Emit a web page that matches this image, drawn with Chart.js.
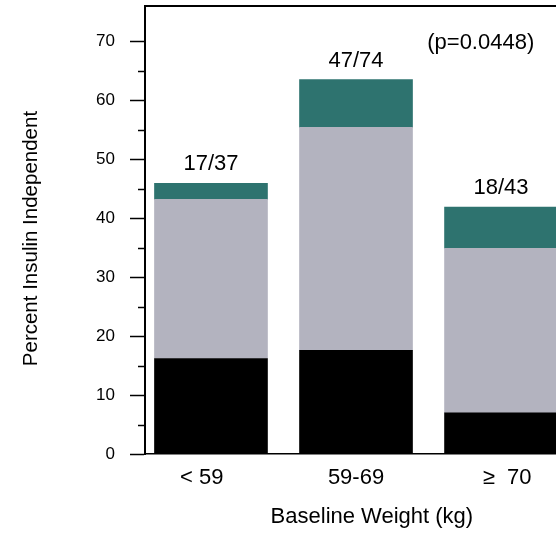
<!DOCTYPE html>
<html>
<head>
<meta charset="utf-8">
<script src="https://cdn.jsdelivr.net/npm/chart.js@4.4.0/dist/chart.umd.min.js"></script>
<style>
html, body { margin: 0; padding: 0; background: #fff; }
#wrap { width: 556px; height: 535px; }
</style>
</head>
<body>
<div id="wrap"><canvas id="chart"></canvas></div>
<script>
// values (percent of patients in each weight group)
const categories = ['< 59   ', '59-69', '  \u2265  70'];
const countLabels = ['17/37', '47/74', '18/43'];
const blackPct = [16.2, 17.6, 7.0];
const grayPct = [27.0, 37.8, 27.9];
const greenPct = [2.7, 8.1, 7.0];
const pValue = '(p=0.0448)';

const FONT = '"Liberation Sans", Arial, sans-serif';
Chart.defaults.font.family = FONT;
Chart.defaults.color = '#000';

function series(values) {
    return values.map((v, i) => ({ x: i, y: v }));
}

const extras = {
    id: 'extras',
    afterDatasetsDraw(chart) {
        const ctx = chart.ctx;
        const last = chart.getDatasetMeta(chart.data.datasets.length - 1);
        ctx.save();
        ctx.fillStyle = '#000';
        ctx.font = '22px ' + FONT;
        ctx.textAlign = 'center';
        ctx.textBaseline = 'alphabetic';
        last.data.forEach((bar, i) => {
            ctx.fillText(countLabels[i], bar.x, bar.y - 13);
        });
        ctx.fillText(pValue, chart.scales.x.getPixelForValue(1.86), chart.scales.y.getPixelForValue(70) + 8);
        ctx.restore();
    },
    afterDraw(chart) {
        const ctx = chart.ctx;
        const area = chart.chartArea;
        const y = chart.scales.y;
        ctx.save();
        ctx.strokeStyle = '#000';
        ctx.lineWidth = 2;
        ctx.beginPath();
        ctx.moveTo(area.left - 1, area.top);
        ctx.lineTo(area.right, area.top);
        ctx.stroke();
        // short minor ticks between the labelled ones
        ctx.lineWidth = 1.5;
        y.ticks.forEach(t => {
            if (t.value % 10 !== 0 && t.value < 70) {
                const py = Math.round(y.getPixelForValue(t.value)) + 0.5;
                ctx.beginPath();
                ctx.moveTo(area.left - 7, py);
                ctx.lineTo(area.left, py);
                ctx.stroke();
            }
        });
        ctx.restore();
    }
};

const chart = new Chart(document.getElementById('chart'), {
    type: 'bar',
    data: {
        datasets: [
            { label: 'black', data: series(blackPct), backgroundColor: '#000000' },
            { label: 'gray', data: series(grayPct), backgroundColor: '#b3b3bf' },
            { label: 'green', data: series(greenPct), backgroundColor: '#2e736f' }
        ]
    },
    options: {
        responsive: true,
        maintainAspectRatio: false,
        animation: false,
        barThickness: 113,
        layout: { padding: { top: 6, left: 0, right: 0, bottom: 0 } },
        plugins: {
            legend: { display: false },
            tooltip: { enabled: false }
        },
        scales: {
            x: {
                type: 'linear',
                stacked: true,
                offset: false,
                min: -0.455,
                max: 2.379,
                grid: { display: true, offset: false, drawOnChartArea: false, drawTicks: false },
                border: { display: true, color: '#000', width: 1.5 },
                afterBuildTicks: scale => {
                    scale.ticks = categories.map((c, i) => ({ value: i }));
                },
                ticks: {
                    autoSkip: false,
                    maxRotation: 0,
                    padding: 11,
                    font: { size: 22 },
                    callback: v => categories[v]
                },
                title: {
                    display: true,
                    text: '       Baseline Weight (kg)',
                    font: { size: 22 },
                    padding: { top: 0, bottom: 5 }
                },
                afterFit: scale => { scale.height = 81; }
            },
            y: {
                stacked: true,
                min: 0,
                max: 76,
                grid: {
                    display: true,
                    drawOnChartArea: false,
                    drawTicks: true,
                    tickLength: 15,
                    tickWidth: 1.5,
                    tickColor: ctx => (ctx.tick && ctx.tick.value % 10 === 0) ? '#000' : 'rgba(0,0,0,0)'
                },
                border: { display: true, color: '#000', width: 2 },
                ticks: {
                    stepSize: 5,
                    includeBounds: false,
                    padding: 15,
                    font: { size: 17 },
                    callback: v => (v % 10 === 0 ? String(v) : '')
                },
                title: {
                    display: true,
                    text: 'Percent Insulin Independent   ',
                    font: { size: 20.5 },
                    padding: { top: 19, bottom: 0 }
                },
                afterFit: scale => {
                    scale.width = 145;
                    scale.paddingTop = 0;
                    scale.paddingBottom = 0;
                }
            }
        }
    },
    plugins: [extras]
});
</script>
</body>
</html>
